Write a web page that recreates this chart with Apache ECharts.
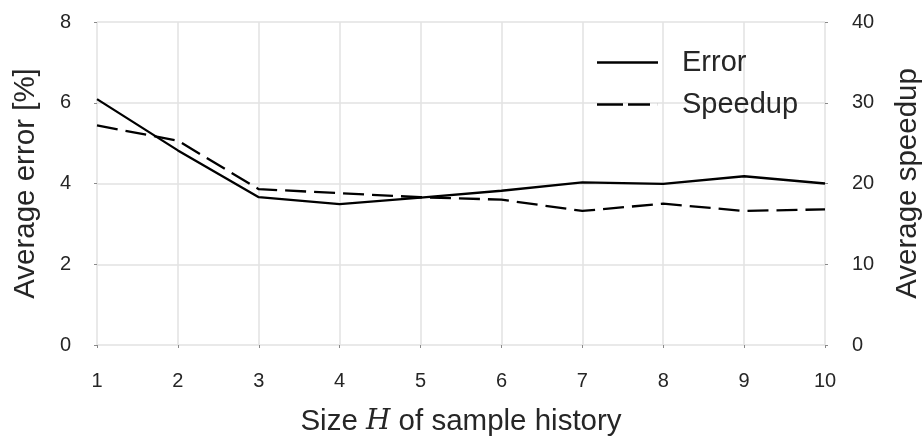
<!DOCTYPE html>
<html>
<head>
<meta charset="utf-8">
<script src="https://cdn.jsdelivr.net/npm/echarts@6/dist/echarts.min.js"></script>
<style>
  html, body { margin: 0; padding: 0; background: #fff; }
  #chart { width: 923px; height: 439px; }
</style>
</head>
<body>
<div id="chart"></div>
<script>
// History sizes on the x axis
const historySizes = ['1', '2', '3', '4', '5', '6', '7', '8', '9', '10'];
// Average error in percent (left axis)
const errorValues = [6.09, 4.82, 3.66, 3.49, 3.65, 3.82, 4.03, 3.99, 4.18, 4.0];
// Average speedup (right axis)
const speedupValues = [27.2, 25.3, 19.3, 18.8, 18.3, 18.0, 16.6, 17.5, 16.6, 16.8];
// Tick label values for each y axis
const errorTicks = [0, 2, 4, 6, 8];
const speedupTicks = [0, 10, 20, 30, 40];

const FONT = '"Liberation Sans", Arial, sans-serif';
const TEXT = '#262626';
const GRID = '#e2e2e2';
const TICK = '#8a8a8a';

// Legend keys: a solid bar and a two-dash bar (tiny last rect keeps the full key width)
const SOLID_KEY = 'path://M0,0H61V2.5H0Z';
const DASH_KEY = 'path://M0,0H26V2.5H0Z M31,0H53V2.5H31Z M60.9,0H61V2.5H60.9Z';

const chart = echarts.init(document.getElementById('chart'), null, { renderer: 'canvas' });

chart.setOption({
  animation: false,
  backgroundColor: '#ffffff',
  textStyle: { fontFamily: FONT },
  grid: { left: 97, right: 98, top: 22, bottom: 94, containLabel: false, outerBoundsMode: 'none' },
  legend: {
    orient: 'vertical',
    left: 592,
    top: 43,
    itemWidth: 61,
    itemHeight: 2.5,
    itemGap: 13,
    itemStyle: { color: '#000', borderWidth: 0 },
    textStyle: { fontSize: 29, color: TEXT, fontFamily: FONT, padding: [0, 0, 0, 19] },
    data: [
      { name: 'Error', icon: SOLID_KEY },
      { name: 'Speedup', icon: DASH_KEY }
    ]
  },
  xAxis: {
    type: 'category',
    data: historySizes,
    boundaryGap: false,
    axisLine: { show: false },
    axisTick: { show: true, length: 3, lineStyle: { color: TICK } },
    axisLabel: { fontSize: 20, color: TEXT, margin: 26, fontFamily: FONT },
    splitLine: { show: true, lineStyle: { color: GRID, width: 1.5 } },
    name: '{t|Size }{h|H}{t| of sample history}',
    nameLocation: 'middle',
    nameGap: 62,
    nameTextStyle: {
      rich: {
        t: { fontSize: 29.5, color: TEXT, fontFamily: FONT },
        h: { fontSize: 28, color: TEXT, fontFamily: '"DejaVu Serif", "Liberation Serif", serif', fontStyle: 'italic' }
      }
    }
  },
  yAxis: [
    {
      type: 'value',
      min: errorTicks[0],
      max: errorTicks[errorTicks.length - 1],
      interval: errorTicks[1] - errorTicks[0],
      axisLine: { show: false },
      axisTick: { show: true, length: 3, lineStyle: { color: TICK } },
      axisLabel: { fontSize: 20, color: TEXT, margin: 26, fontFamily: FONT },
      splitLine: { show: true, lineStyle: { color: GRID, width: 1.5 } },
      name: 'Average error [%]',
      nameLocation: 'middle',
      nameGap: 56,
      nameTextStyle: { fontSize: 29.5, color: TEXT, fontFamily: FONT }
    },
    {
      type: 'value',
      position: 'right',
      min: speedupTicks[0],
      max: speedupTicks[speedupTicks.length - 1],
      interval: speedupTicks[1] - speedupTicks[0],
      axisLine: { show: false },
      axisTick: { show: true, length: 3, lineStyle: { color: TICK } },
      axisLabel: { fontSize: 20, color: TEXT, margin: 27, fontFamily: FONT },
      splitLine: { show: false },
      name: 'Average speedup',
      nameLocation: 'middle',
      nameGap: 68,
      nameRotate: 90,
      nameTextStyle: { fontSize: 29.5, color: TEXT, fontFamily: FONT }
    }
  ],
  series: [
    {
      name: 'Error',
      type: 'line',
      yAxisIndex: 0,
      data: errorValues,
      symbol: 'none',
      lineStyle: { color: '#000', width: 2.3, type: 'solid' },
      itemStyle: { color: '#000' }
    },
    {
      name: 'Speedup',
      type: 'line',
      yAxisIndex: 1,
      data: speedupValues,
      symbol: 'none',
      lineStyle: { color: '#000', width: 2.3, type: [21, 8] },
      itemStyle: { color: '#000' }
    }
  ]
});
</script>
</body>
</html>
